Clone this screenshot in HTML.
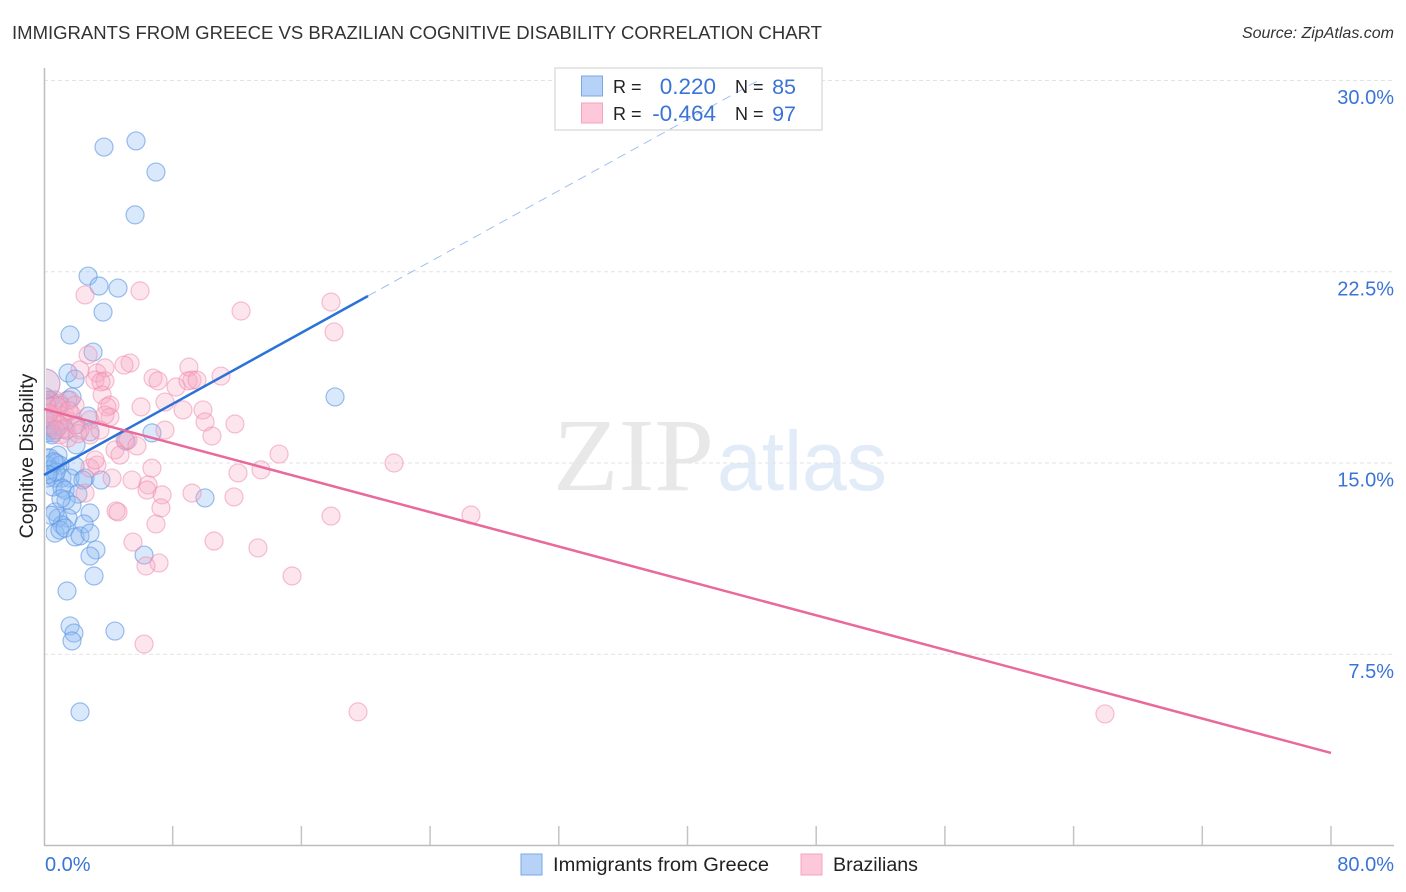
<!DOCTYPE html>
<html lang="en">
<head>
<meta charset="utf-8">
<title>Immigrants from Greece vs Brazilian Cognitive Disability Correlation Chart</title>
<style>
html,body{margin:0;padding:0;background:#fff;width:1406px;height:892px;overflow:hidden}
svg{display:block;font-family:"Liberation Sans",sans-serif}
</style>
</head>
<body>
<svg id="chart" width="1406" height="892" viewBox="0 0 1406 892" xmlns="http://www.w3.org/2000/svg">
  <defs>
    <clipPath id="plot-clip"><rect x="46" y="60" width="1350" height="785"/></clipPath>
  </defs>
  <text x="12" y="39" font-size="18" fill="#333" textLength="810" lengthAdjust="spacingAndGlyphs">IMMIGRANTS FROM GREECE VS BRAZILIAN COGNITIVE DISABILITY CORRELATION CHART</text>
  <text x="1394" y="38" font-size="16" font-style="italic" fill="#333" text-anchor="end">Source: ZipAtlas.com</text>
  <g>
    <text x="553" y="490" font-family="'Liberation Serif',serif" font-size="104" fill="#e8e8e8" textLength="161" lengthAdjust="spacingAndGlyphs">ZIP</text>
    <text x="717" y="490" font-size="84" fill="#e2ecf9" textLength="170" lengthAdjust="spacingAndGlyphs">atlas</text>
  </g>
  <g id="grid"></g>
  <g id="axes"></g>
  <g id="blue-points" clip-path="url(#plot-clip)"></g>
  <g id="pink-points" clip-path="url(#plot-clip)"></g>
  <g id="trends"></g>
  <g id="labels"></g>
  <text transform="translate(33,456) rotate(-90)" font-size="19.5" fill="#222" text-anchor="middle">Cognitive Disability</text>

  <g>
    <rect x="555" y="68" width="267" height="62" fill="#fff" stroke="#ddd" stroke-width="1.5"/>
    <rect x="581.5" y="76" width="21" height="20" fill="#b6d2f6" stroke="#7aa8e6" stroke-width="1"/>
    <rect x="581.5" y="103" width="21" height="20" fill="#fdc8da" stroke="#f3a3bf" stroke-width="1"/>
    <text x="613" y="93" font-size="18" fill="#222">R =</text>
    <text x="716" y="94" font-size="22.5" fill="#3a74d6" text-anchor="end">0.220</text>
    <text x="735" y="93" font-size="18" fill="#222">N =</text>
    <text x="796" y="94" font-size="21.5" fill="#3a74d6" text-anchor="end">85</text>
    <text x="613" y="120" font-size="18" fill="#222">R =</text>
    <text x="716" y="121" font-size="22.5" fill="#3a74d6" text-anchor="end">-0.464</text>
    <text x="735" y="120" font-size="18" fill="#222">N =</text>
    <text x="796" y="121" font-size="21.5" fill="#3a74d6" text-anchor="end">97</text>
  </g>
  <g id="trend-projection"></g>

  <g>
    <rect x="521" y="854" width="21" height="21" fill="#b6d2f6" stroke="#7aa8e6" stroke-width="1"/>
    <text x="553" y="871" font-size="19" fill="#222" textLength="216" lengthAdjust="spacingAndGlyphs">Immigrants from Greece</text>
    <rect x="801" y="854" width="21" height="21" fill="#fdc8da" stroke="#f3a3bf" stroke-width="1"/>
    <text x="833" y="871" font-size="19" fill="#222" textLength="85" lengthAdjust="spacingAndGlyphs">Brazilians</text>
  </g>
</svg>
<script>
var xTicks = [0, 8, 16, 24, 32, 40, 48, 56, 64, 72, 80];
var xTickLabels = ["0.0%", "80.0%"];
var yTicks = [7.5, 15, 22.5, 30];
var yTickLabels = ["7.5%", "15.0%", "22.5%", "30.0%"];

var greeceX = [5.72,3.73,6.96,5.66,2.74,3.42,4.60,3.67,1.62,3.05,1.49,1.93,18.09,10.01,6.22,3.11,1.43,1.62,1.86,1.74,4.41,2.24,
0.06,0.37,0.19,1.49,1.74,2.74,0.06,0.37,0.68,0.19,0.99,1.37,1.99,2.86,6.71,5.10,1.99,0.19,0.37,0.87,0.19,0.75,0.99,0.37,1.93,0.19,0.68,1.12,1.62,2.55,3.54,2.42,0.56,1.12,1.31,2.11,1.37,1.74,0.68,1.49,0.87,2.86,2.49,1.12,0.68,0.99,1.31,1.93,2.24,2.86,3.23,2.86,0.56,0.99,0.19,0.75,0.12,0.31,0.50,0.62,0.25,0.44,1.05];
var greeceY = [27.63,27.39,26.41,24.73,22.33,21.94,21.86,20.92,20.02,19.35,18.53,18.29,17.59,13.63,11.39,10.57,9.98,8.61,8.33,8.02,8.41,5.24,
17.59,17.47,17.27,17.47,17.59,16.84,16.69,16.29,16.29,16.18,16.49,16.29,16.49,16.22,16.18,15.86,15.71,15.20,15.20,15.31,14.92,15.00,14.92,14.73,14.88,14.41,14.41,14.41,14.41,14.41,14.33,14.33,14.06,14.02,13.94,13.78,13.55,13.35,13.08,12.84,12.84,13.04,12.61,12.57,12.25,12.37,12.45,12.10,12.14,12.25,11.59,11.35,16.18,17.27,16.49,14.65,16.80,16.40,16.10,15.05,14.55,12.95,13.60];

var brazilX = [2.55,5.97,12.25,17.84,18.03,2.74,5.35,4.97,3.79,2.24,3.29,3.17,3.79,3.54,9.01,9.20,11.00,6.78,7.09,8.21,8.95,9.51,7.52,6.03,8.64,9.88,10.01,11.87,10.44,7.52,3.61,4.10,3.92,4.10,2.86,0.68,0.25,0.99,1.31,1.74,1.93,0.99,1.49,2.86,5.03,5.22,5.78,4.41,4.72,6.71,3.29,2.86,4.23,5.47,6.47,6.40,7.34,9.20,11.81,12.06,13.49,14.61,21.76,26.54,17.84,6.96,7.27,4.48,4.60,5.53,7.15,6.34,10.57,13.30,15.42,6.22,19.52,65.95,2.55,3.17,3.48,3.79,1.62,0.68,0.37,2.24,1.12,1.93,0.12,0.50,0.87,1.24,0.31,1.56,2.11,0.75];
var brazilY = [21.59,21.75,20.96,21.31,20.14,19.24,18.92,18.84,18.73,18.65,18.53,18.25,18.22,18.18,18.76,18.25,18.41,18.33,18.22,17.98,18.22,18.25,17.39,17.20,17.08,17.08,16.61,16.53,16.06,16.29,17.67,17.27,17.20,16.80,16.69,17.47,17.47,17.35,16.88,16.88,16.49,16.10,15.98,16.10,15.90,15.90,15.67,15.51,15.31,14.80,14.92,14.80,14.41,14.33,14.14,13.94,13.75,13.82,13.67,14.61,14.73,15.35,15.00,12.96,12.92,12.61,13.24,13.12,13.08,11.90,11.08,10.96,11.94,11.67,10.57,7.90,5.24,5.16,13.82,15.12,16.29,16.88,17.47,16.88,16.49,16.29,16.69,17.27,17.35,16.70,17.20,16.35,16.95,17.05,16.15,16.30];

var largeBrazilX = [0.06];
var largeBrazilY = [18.10];

var greeceTrendX = [0, 20.14];
var greeceTrendY = [14.53, 21.55];
var greeceDashX = [20.14, 44.4];
var greeceDashY = [21.55, 30];
var brazilTrendX = [0, 80];
var brazilTrendY = [17.12, 3.63];

var SVGNS = "http://www.w3.org/2000/svg";
function px(v) { return 44 + v * 16.0875; }
function py(v) { return 845.5 - v * 25.5; }
function make(tag, parent, attrs) {
  var el = document.createElementNS(SVGNS, tag);
  for (var k in attrs) { el.setAttribute(k, attrs[k]); }
  document.getElementById(parent).appendChild(el);
  return el;
}

yTicks.forEach(function (t, i) {
  var g = make("line", "grid", {x1: 44, x2: 1394, y1: py(t), y2: py(t), stroke: "#e3e3e3", "stroke-width": 1, "stroke-dasharray": "4 3"});
  
  
  var l = make("text", "labels", {x: 1394, y: py(t) + 23.5, "font-size": 20, fill: "#3a74d6", "text-anchor": "end"});
  
  
  l.textContent = yTickLabels[i];
});

var yAxis = make("line", "axes", {x1: 44.5, x2: 44.5, y1: 68, y2: 846, stroke: "#bdbdbd", "stroke-width": 1.5});


var xAxis = make("line", "axes", {x1: 44, x2: 1394, y1: 845.5, y2: 845.5, stroke: "#bdbdbd", "stroke-width": 1.5});


xTicks.forEach(function (t) {
  if (t === 0) { return; }
  var m = make("line", "axes", {x1: px(t), x2: px(t), y1: 826, y2: 845, stroke: "#c4c4c4", "stroke-width": 1.5});
  
  
});

var xl0 = make("text", "labels", {x: 45, y: 871, "font-size": 20, fill: "#3a74d6"});


xl0.textContent = xTickLabels[0];
var xl1 = make("text", "labels", {x: 1394, y: 871, "font-size": 20, fill: "#3a74d6", "text-anchor": "end"});


xl1.textContent = xTickLabels[1];

greeceX.forEach(function (v, i) {
  var c = make("circle", "blue-points", {cx: px(v), cy: py(greeceY[i]), r: 9, fill: "#8fbcf4", "fill-opacity": 0.34, stroke: "#5f98e2", "stroke-opacity": 0.62, "stroke-width": 1.2});
  
  
});
brazilX.forEach(function (v, i) {
  var c = make("circle", "pink-points", {cx: px(v), cy: py(brazilY[i]), r: 9, fill: "#f9a8c4", "fill-opacity": 0.3, stroke: "#ee8dae", "stroke-opacity": 0.55, "stroke-width": 1.2});
  
  
});
largeBrazilX.forEach(function (v, i) {
  var c = make("circle", "pink-points", {cx: px(v), cy: py(largeBrazilY[i]), r: 15, fill: "#c9a0c8", "fill-opacity": 0.4, stroke: "#b77fc0", "stroke-opacity": 0.6, "stroke-width": 1.2});
  
  
});

var td = make("line", "trend-projection", {x1: px(greeceDashX[0]), y1: py(greeceDashY[0]), x2: px(greeceDashX[1]), y2: py(greeceDashY[1]), stroke: "#2e74d8", "stroke-width": 1, "stroke-opacity": 0.45, "stroke-dasharray": "9 6"});


var tb = make("line", "trends", {x1: px(greeceTrendX[0]), y1: py(greeceTrendY[0]), x2: px(greeceTrendX[1]), y2: py(greeceTrendY[1]), stroke: "#2a72d8", "stroke-width": 2.5});


var tp = make("line", "trends", {x1: px(brazilTrendX[0]), y1: py(brazilTrendY[0]), x2: px(brazilTrendX[1]), y2: py(brazilTrendY[1]), stroke: "#e96a9a", "stroke-width": 2.5});


</script>
</body>
</html>
